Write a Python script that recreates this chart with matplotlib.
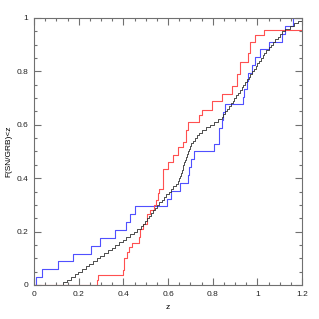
import numpy as np
import matplotlib.pyplot as plt
from matplotlib.ticker import MultipleLocator

plt.rcParams['font.family'] = ['Liberation Sans', 'DejaVu Sans']

# blue: x where each step occurs (34 objects)
blue_x = [0.009, 0.037, 0.109, 0.175, 0.255, 0.297, 0.363, 0.412, 0.430, 0.454,
          0.594, 0.612, 0.654, 0.688, 0.694, 0.703, 0.717, 0.807, 0.828, 0.830,
          0.840, 0.845, 0.855, 0.937, 0.940, 0.952, 0.960, 0.975, 0.990, 1.010,
          1.050, 1.109, 1.124, 1.160]

# red: step positions and levels after each step
red_x = [0.283, 0.288, 0.397, 0.405, 0.416, 0.427, 0.437, 0.470, 0.475, 0.490,
         0.505, 0.520, 0.535, 0.545, 0.557, 0.561, 0.579, 0.602, 0.624, 0.646,
         0.669, 0.680, 0.691, 0.740, 0.751, 0.796, 0.840, 0.885, 0.910, 0.920,
         0.960, 0.967, 0.990, 1.030]
red_y = [0.019, 0.037, 0.056, 0.100, 0.125, 0.143, 0.158, 0.180, 0.210, 0.230,
         0.265, 0.280, 0.300, 0.320, 0.343, 0.358, 0.433, 0.462, 0.487, 0.518,
         0.537, 0.580, 0.610, 0.637, 0.655, 0.690, 0.715, 0.745, 0.790, 0.836,
         0.868, 0.911, 0.936, 0.955]

# black: x of each step (100 steps)
black_x = [0.132, 0.149, 0.165, 0.182, 0.198, 0.214, 0.231, 0.247, 0.264, 0.280,
           0.297, 0.313, 0.330, 0.347, 0.363, 0.380, 0.397, 0.413, 0.430, 0.447,
           0.463, 0.480, 0.489, 0.497, 0.506, 0.515, 0.524, 0.533, 0.541, 0.550,
           0.560, 0.571, 0.582, 0.592, 0.603, 0.613, 0.624, 0.634, 0.645, 0.649,
           0.653, 0.657, 0.661, 0.665, 0.669, 0.673, 0.677, 0.681, 0.686, 0.690,
           0.694, 0.698, 0.704, 0.712, 0.721, 0.730, 0.738, 0.752, 0.770, 0.787,
           0.805, 0.822, 0.840, 0.848, 0.856, 0.864, 0.872, 0.880, 0.889, 0.897,
           0.905, 0.913, 0.921, 0.929, 0.937, 0.945, 0.953, 0.961, 0.968, 0.976,
           0.984, 0.992, 1.000, 1.007, 1.015, 1.023, 1.031, 1.040, 1.050, 1.060,
           1.070, 1.080, 1.090, 1.100, 1.110, 1.125, 1.144, 1.162, 1.180, 1.199]


def steps(xs, ys):
    x = np.concatenate([[0], xs, [1.2]])
    y = np.concatenate([[0], ys, [ys[-1]]])
    return x, y


def fmt(v, p):
    return ('%.1f' % v).rstrip('0').rstrip('.') if v else '0'


fig = plt.figure(figsize=(3.19, 3.19), dpi=100)
ax = fig.add_axes([0.1066, 0.1066, 0.8404, 0.837])

bx, by = steps(blue_x, np.arange(1, len(blue_x) + 1) / len(blue_x))
kx, ky = steps(black_x, np.arange(1, len(black_x) + 1) / len(black_x))
rx, ry = steps(red_x, red_y)

ax.plot(bx, by, drawstyle='steps-post', color='#5050ff', lw=0.8)
ax.plot(rx, ry, drawstyle='steps-post', color='#ff5050', lw=0.8)
ax.plot(kx, ky, drawstyle='steps-post', color='#303030', lw=0.6)

ax.set_xlim(0, 1.2)
ax.set_ylim(0, 1)
ax.xaxis.set_major_locator(MultipleLocator(0.2))
ax.xaxis.set_minor_locator(MultipleLocator(0.05))
ax.yaxis.set_major_locator(MultipleLocator(0.2))
ax.yaxis.set_minor_locator(MultipleLocator(0.05))
ax.xaxis.set_major_formatter(plt.FuncFormatter(fmt))
ax.yaxis.set_major_formatter(plt.FuncFormatter(fmt))
ax.tick_params(which='both', direction='in', top=True, right=True,
               colors='#707070', labelcolor='#222222', labelsize=6, width=0.8)
ax.tick_params(which='major', length=5, pad=4)
ax.tick_params(which='minor', length=2.5)
for s in ax.spines.values():
    s.set_color('#707070')
    s.set_linewidth(0.8)

ax.set_xlabel('z', fontsize=6, labelpad=5)
ax.set_ylabel('F(SN/GRB)<z', fontsize=6, labelpad=3)

fig.savefig('out.png', dpi=100)
